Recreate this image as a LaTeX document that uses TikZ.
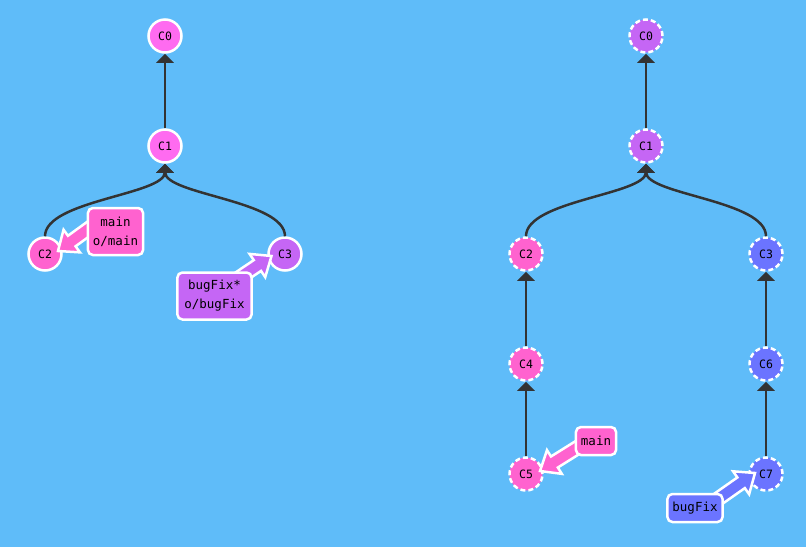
\documentclass[tikz,border=0pt]{standalone}
\usepackage{fontspec}
\setmonofont{DejaVu Sans Mono}
\usetikzlibrary{arrows.meta,calc}
\definecolor{bg}{HTML}{5FBCF9}
\definecolor{pinkc}{HTML}{FF62CF}
\definecolor{magc}{HTML}{FF6BF0}
\definecolor{purc}{HTML}{C566F5}
\definecolor{bluc}{HTML}{6B74FF}
\definecolor{edgec}{HTML}{333333}
\newcommand\fatarrow[3]{%
  \coordinate (fa-h) at ($(#2)!17pt!(#1)$);
  \filldraw[fill=#3, draw=white, line width=2.5pt, line join=miter]
    ($(#1)!6.5pt!90:(#2)$) -- ($(fa-h)!6.5pt!-90:(#1)$) -- ($(fa-h)!14pt!-90:(#1)$)
    -- (#2) -- ($(fa-h)!14pt!90:(#1)$) -- ($(fa-h)!6.5pt!90:(#1)$)
    -- ($(#1)!6.5pt!-90:(#2)$) -- cycle;
}
\tikzset{
  commit/.style={circle, minimum size=33pt, inner sep=0pt, draw=white, line width=2.5pt,
    font=\ttfamily\fontsize{11.5}{11.5}\selectfont},
  ghost/.style={commit, dash pattern=on 5pt off 3pt},
  edge/.style={draw=edgec, line width=2.5pt, -{Triangle[length=9pt,width=17pt]}},
  branch/.style={rounded corners=5pt, draw=white, line width=2.5pt,
    font=\ttfamily\fontsize{12.5}{19}\selectfont, inner xsep=5pt, inner ysep=0pt,
    minimum height=28pt, align=center},
}
\begin{document}
\begin{tikzpicture}[x=1pt,y=-1pt]
\fill[bg] (0,0) rectangle (806,547);
\useasboundingbox (0,0) rectangle (806,547);

% left tree
\node[commit, fill=magc] (lc0) at (165,36) {C0};
\node[commit, fill=magc] (lc1) at (165,146) {C1};
\node[commit, fill=pinkc] (lc2) at (45,254) {C2};
\node[commit, fill=purc] (lc3) at (285,254) {C3};
\draw[edge] (lc1) -- (lc0);
\draw[edge] (lc2.north) .. controls +(0,-36) and +(0,31) .. (lc1.south);
\draw[edge] (lc3.north) .. controls +(0,-36) and +(0,31) .. (lc1.south);

% right tree
\node[ghost, fill=purc] (rc0) at (646,36) {C0};
\node[ghost, fill=purc] (rc1) at (646,146) {C1};
\node[ghost, fill=pinkc] (rc2) at (526,254) {C2};
\node[ghost, fill=bluc] (rc3) at (766,254) {C3};
\node[ghost, fill=pinkc] (rc4) at (526,364) {C4};
\node[ghost, fill=pinkc] (rc5) at (526,474) {C5};
\node[ghost, fill=bluc] (rc6) at (766,364) {C6};
\node[ghost, fill=bluc] (rc7) at (766,474) {C7};
\draw[edge] (rc1) -- (rc0);
\draw[edge] (rc2.north) .. controls +(0,-36) and +(0,31) .. (rc1.south);
\draw[edge] (rc3.north) .. controls +(0,-36) and +(0,31) .. (rc1.south);
\draw[edge] (rc4) -- (rc2);
\draw[edge] (rc5) -- (rc4);
\draw[edge] (rc6) -- (rc3);
\draw[edge] (rc7) -- (rc6);

% branch arrows
\coordinate (t-lmain) at (58,251);
\coordinate (s-lmain) at (98,222);
\coordinate (t-lbug) at (271.5,256);
\coordinate (s-lbug) at (230,284);
\coordinate (t-rmain) at (540,471);
\coordinate (s-rmain) at (588,441);
\coordinate (t-rbug) at (755,473);
\coordinate (s-rbug) at (708,506);
\fatarrow{s-lmain}{t-lmain}{pinkc}
\fatarrow{s-lbug}{t-lbug}{purc}
\fatarrow{s-rmain}{t-rmain}{pinkc}
\fatarrow{s-rbug}{t-rbug}{bluc}

% branch labels
\node[branch, fill=pinkc, minimum height=47pt] (lmain) at (115.5,231.5) {main\\o/main};
\node[branch, fill=purc, minimum height=47pt, inner xsep=7pt] (lbug) at (214.5,296) {bugFix*\\o/bugFix};
\node[branch, fill=pinkc] (rmain) at (596,441) {main};
\node[branch, fill=bluc] (rbug) at (695,508) {bugFix};
\end{tikzpicture}
\end{document}
